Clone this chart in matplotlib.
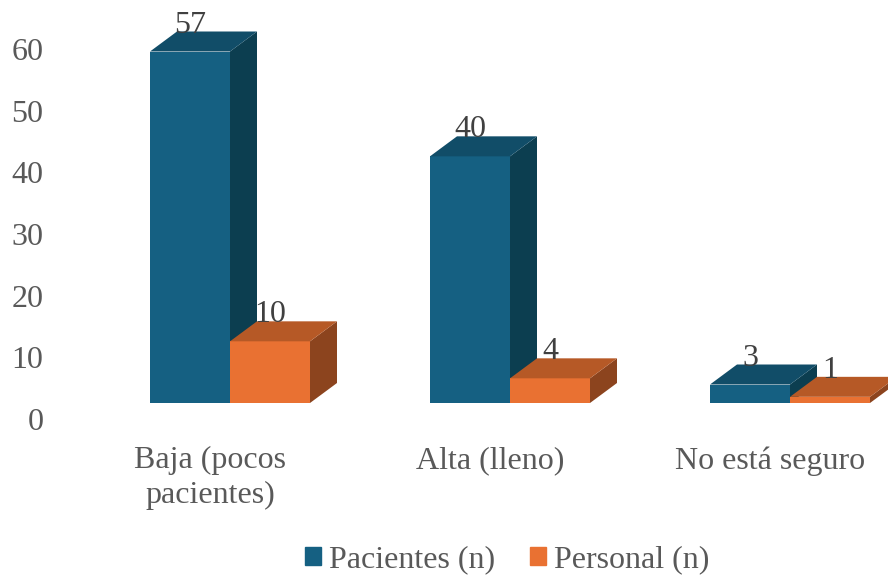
import numpy as np
import matplotlib
matplotlib.use('Agg')
import matplotlib.pyplot as plt
from matplotlib.patches import Patch
from matplotlib.transforms import ScaledTranslation

categorias = ['Baja (pocos\npacientes)', 'Alta (lleno)', 'No está seguro']
pacientes = [57, 40, 3]
personal = [10, 4, 1]
y_ticks = [0, 10, 20, 30, 40, 50, 60]

W, H = 888, 577
plt.rcParams['font.family'] = ['Liberation Serif', 'DejaVu Serif']
FS = 23
TXT = '#404040'
GRIS = '#595959'

fig = plt.figure(figsize=(W / 100, H / 100), dpi=100)
# area de las barras en pixeles: x 60-888, y 33-403
ax = fig.add_axes([60 / W, (H - 403) / H, (W - 60) / W, 370 / H])
ax.set_xlim((60 - 230) / 280, (W - 230) / 280)
ax.set_ylim(0, 60)
for s in ax.spines.values():
    s.set_visible(False)

ancho = 80 / 280
dx = 27 / 280
dy = 20 / (370 / 60)


def barra(x0, v, c_front, c_top, c_side):
    ax.bar(x0, v, ancho, align='edge', color=c_front, linewidth=0, zorder=2, clip_on=False)
    x1 = x0 + ancho
    ax.fill([x0, x1, x1 + dx, x0 + dx], [v, v, v + dy, v + dy], color=c_top, lw=0, zorder=2, clip_on=False)
    ax.fill([x1, x1 + dx, x1 + dx, x1], [0, dy, v + dy, v], color=c_side, lw=0, zorder=1.5, clip_on=False)
    ax.annotate(str(v), (x0 + ancho / 2, v), xytext=(0, 19), textcoords='offset points',
                ha='center', va='center', fontsize=FS, color=TXT, zorder=5, annotation_clip=False)


xs = np.arange(len(categorias))
for i in xs:
    # primero la naranja queda delante de la cara lateral azul
    barra(i - ancho, pacientes[i], '#156082', '#114D68', '#0C3E50')
    barra(i, personal[i], '#E97132', '#B65926', '#8C441E')

ax.set_yticks(y_ticks)
ax.set_xticks(xs - 20 / 280)
ax.set_xticklabels(categorias, fontsize=FS, color=GRIS, linespacing=1.25)
ax.tick_params(axis='both', length=0)
ax.tick_params(axis='x', pad=31)
ax.tick_params(axis='y', labelsize=FS, labelcolor=GRIS, pad=12)
# las etiquetas del eje y van un poco mas abajo que las barras
off = ScaledTranslation(0, -16 / 100, fig.dpi_scale_trans)
for t in ax.get_yticklabels():
    t.set_transform(t.get_transform() + off)

handles = [Patch(color='#156082', label='Pacientes (n)'), Patch(color='#E97132', label='Personal (n)')]
fig.legend(handles=handles, loc='center', bbox_to_anchor=(507 / W, 1 - 560 / H), ncol=2, frameon=False,
           fontsize=FS, labelcolor=GRIS, handlelength=0.5, handleheight=0.5, handletextpad=0.25, columnspacing=1.1)

fig.savefig('out.png', dpi=100)
